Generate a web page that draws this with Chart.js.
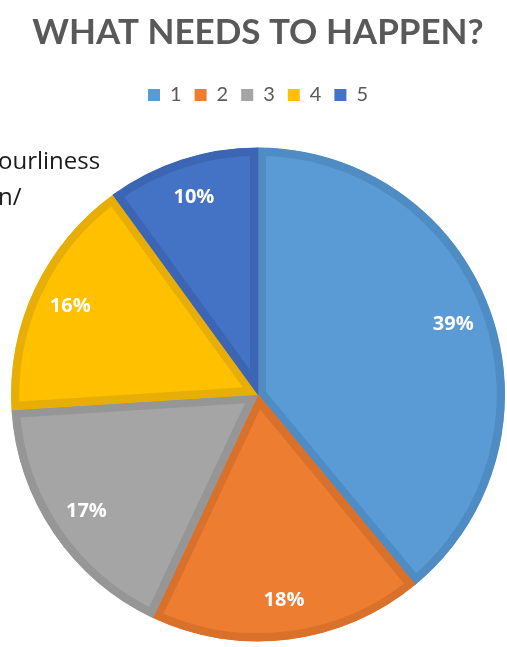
<!DOCTYPE html>
<html>
<head>
<meta charset="utf-8">
<script src="https://cdn.jsdelivr.net/npm/chart.js@4/dist/chart.umd.min.js"></script>
<style>
  html, body { margin: 0; padding: 0; background: #fff; }
  #wrap { position: relative; width: 507px; height: 647px; overflow: hidden; }
  .side { position: absolute; font-family: "Open Sans", sans-serif; font-size: 24px; color: #1a1a1a; white-space: nowrap; }
</style>
</head>
<body>
<div id="wrap">
  <canvas id="pie" width="507" height="647"></canvas>
  <div class="side" style="left:-2px; top:143px;">ourliness</div>
  <div class="side" style="left:-2px; top:179px;">n/</div>
</div>
<script>
// values
var labels = ['1', '2', '3', '4', '5'];
var values = [39, 18, 17, 16, 10];
var fillColors = ['#5b9bd5', '#ed7d31', '#a5a5a5', '#ffc000', '#4472c4'];
var edgeColors = ['#4f8cc4', '#d9712b', '#969696', '#e6ae06', '#3c66b3'];

// percentage labels inside each slice
var sliceLabels = {
    id: 'sliceLabels',
    afterDatasetsDraw: function(chart) {
        var ctx = chart.ctx;
        var meta = chart.getDatasetMeta(0);
        var total = values.reduce(function(a, b) { return a + b; }, 0);
        ctx.save();
        ctx.font = 'bold 20px "Open Sans", sans-serif';
        ctx.fillStyle = '#ffffff';
        ctx.textAlign = 'center';
        ctx.textBaseline = 'middle';
        meta.data.forEach(function(arc, i) {
            var p = arc.getProps(['x', 'y', 'startAngle', 'endAngle', 'outerRadius'], true);
            var mid = (p.startAngle + p.endAngle) / 2;
            var r = p.outerRadius * 0.84;
            ctx.fillText(Math.round(values[i] / total * 100) + '%', p.x + Math.cos(mid) * r, p.y + Math.sin(mid) * r);
        });
        ctx.restore();
    }
};

// empty box between legend and pie
var legendGap = {
    id: 'legendGap',
    beforeInit: function(chart) {
        Chart.layouts.addBox(chart, {
            position: 'top', weight: 500, fullSize: true,
            options: {},
            left: 0, top: 0, right: 0, bottom: 0, width: 0, height: 0,
            isHorizontal: function() { return true; },
            getPadding: function() { return { top: 0, left: 0, right: 0, bottom: 0 }; },
            update: function(maxWidth) { this.width = maxWidth; this.height = 30; },
            draw: function() {}
        });
    }
};

var ctx = document.getElementById('pie').getContext('2d');
var myChart = new Chart(ctx, {
    type: 'pie',
    data: {
        labels: labels,
        datasets: [{
            data: values,
            backgroundColor: fillColors,
            borderColor: edgeColors,
            borderWidth: 8,
            borderAlign: 'inner'
        }]
    },
    options: {
        responsive: false,
        animation: false,
        layout: {
            padding: { left: 11, right: 2, top: 0, bottom: 3 }
        },
        plugins: {
            title: {
                display: true,
                text: 'WHAT NEEDS TO HAPPEN?',
                color: '#595959',
                font: { family: 'Lato', size: 35, weight: 'bold' },
                padding: { top: 12, bottom: 18 }
            },
            legend: {
                position: 'top',
                labels: {
                    color: '#595959',
                    font: { family: 'Lato', size: 20 },
                    boxWidth: 12,
                    boxHeight: 12,
                    padding: 13,
                    generateLabels: function(chart) {
                        var items = Chart.overrides.pie.plugins.legend.labels.generateLabels(chart);
                        items.forEach(function(it) { it.lineWidth = 0; it.strokeStyle = it.fillStyle; });
                        return items;
                    }
                }
            },
            tooltip: { enabled: false }
        }
    },
    plugins: [sliceLabels, legendGap]
});
</script>
</body>
</html>
